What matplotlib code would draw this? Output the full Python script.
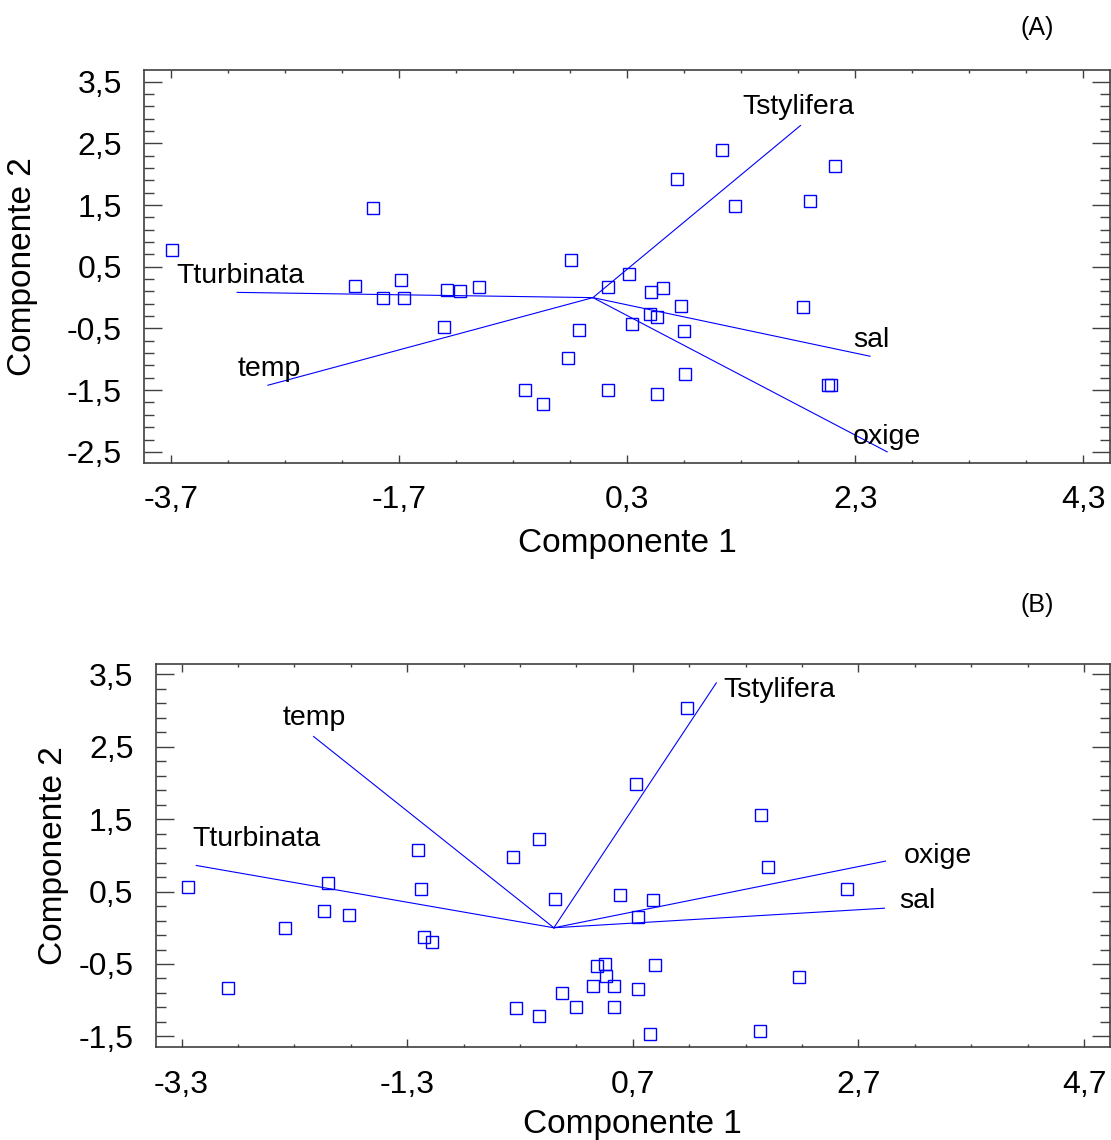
#PCA biplots (A) and (B) - Componente 1 vs Componente 2
import numpy as np
import matplotlib
matplotlib.use('Agg')
import matplotlib.pyplot as plt

plt.rcParams['font.family'] = ['Liberation Sans', 'DejaVu Sans']

# Panel A scores
a_x = [-3.69, -1.93, -2.09, -1.68, -1.84, -1.66, -1.28, -1.17, -1.00, -1.31,
       -0.19, 0.13, 0.32, -0.12, -0.22, -0.60, -0.44, 0.13, 0.34,
       1.13, 0.735, 1.25, 2.12, 1.90, 0.51, 0.61, 0.77, 0.50, 0.56,
       0.80, 1.84, 0.81, 0.56, 2.06, 2.09]
a_y = [0.78, 1.45, 0.19, 0.28, 0.00, 0.00, 0.13, 0.11, 0.17, -0.47,
       0.61, 0.18, 0.39, -0.52, -0.98, -1.50, -1.72, -1.50, -0.42,
       2.39, 1.92, 1.49, 2.14, 1.56, 0.09, 0.15, -0.14, -0.27, -0.31,
       -0.54, -0.16, -1.23, -1.56, -1.41, -1.41]

# Panel A loadings (vector ends)
a_vars = ['Tturbinata', 'temp', 'Tstylifera', 'sal', 'oxige']
a_vx = [-3.12, -2.85, 1.82, 2.43, 2.58]
a_vy = [0.085, -1.42, 2.79, -0.95, -2.50]

# Panel B scores
b_x = [-3.24, -2.89, -2.38, -2.04, -2.00, -1.82, -1.20, -1.18, -1.15, -1.08,
       -0.36, -0.13, 0.01, -0.34, -0.13, 0.07, 0.20, 0.35, 0.38, 0.45,
       0.46, 0.53, 0.53, 0.59, 0.73, 0.75, 0.75,
       1.18, 1.84, 1.90, 2.60, 0.88, 0.90, 2.17, 0.85, 1.83]
b_y = [0.56, -0.83, -0.01, 0.23, 0.62, 0.17, 1.08, 0.54, -0.13, -0.20,
       0.97, 1.23, 0.40, -1.11, -1.22, -0.90, -1.09, -0.81, -0.53, -0.50,
       -0.66, -0.81, -1.09, 0.45, 1.99, 0.15, -0.85,
       3.03, 1.55, 0.84, 0.54, 0.38, -0.51, -0.68, -1.47, -1.42]

# Panel B loadings
b_vars = ['temp', 'Tturbinata', 'Tstylifera', 'oxige', 'sal']
b_vx = [-2.13, -3.17, 1.44, 2.94, 2.93]
b_vy = [2.64, 0.86, 3.38, 0.92, 0.27]

a_xticks = [-3.7, -1.7, 0.3, 2.3, 4.3]
a_yticks = [-2.5, -1.5, -0.5, 0.5, 1.5, 2.5, 3.5]
b_xticks = [-3.3, -1.3, 0.7, 2.7, 4.7]
b_yticks = [-1.5, -0.5, 0.5, 1.5, 2.5, 3.5]

# label offsets in points (dx, dy) from the end of each vector
a_offsets = {'Tturbinata': (-44, 12), 'temp': (-22, 12), 'Tstylifera': (-42, 13),
             'sal': (-12, 12), 'oxige': (-25, 11)}
b_offsets = {'temp': (-22, 13), 'Tturbinata': (-3, 19), 'Tstylifera': (5, -5),
             'oxige': (13, 4), 'sal': (11, 5)}

blue = '#0000ff'
frame = '#404040'

def fmt(v):
    return f'{v:.1f}'.replace('.', ',')

def biplot(ax, px, py, names, vx, vy, offsets, xticks, yticks, xlim, ylim):
    for name, ex, ey in zip(names, vx, vy):
        ax.plot([0, ex], [0, ey], color=blue, lw=0.8)
        dx, dy = offsets[name]
        ax.annotate(name, xy=(ex, ey), xytext=(dx, dy), textcoords='offset points',
                    ha='left', va='center', fontsize=20.5, color='black')
    ax.plot(px, py, 's', mfc='none', mec=blue, ms=8, mew=1.0, ls='none')
    ax.set_xticks(xticks)
    ax.set_yticks(yticks)
    ax.set_xticklabels([fmt(v) for v in xticks])
    ax.set_yticklabels([fmt(v) for v in yticks])
    ax.set_xticks(np.arange(xticks[0] - 0.5, xticks[-1] + 0.51, 0.5), minor=True)
    ax.set_yticks(np.arange(yticks[0] - 0.2, yticks[-1] + 0.21, 0.2), minor=True)
    # limits after the ticks, otherwise set_xticks widens them
    ax.set_xlim(xlim)
    ax.set_ylim(ylim)
    ax.tick_params(axis='both', which='both', direction='in', color=frame,
                   top=True, right=True, labelsize=23)
    ax.tick_params(axis='x', which='major', length=5.5, width=1, pad=16)
    ax.tick_params(axis='x', which='minor', length=2.5, width=1)
    ax.tick_params(axis='y', which='major', length=13, width=1, pad=16)
    ax.tick_params(axis='y', which='minor', length=7, width=1)
    for s in ax.spines.values():
        s.set_color(frame)
        s.set_linewidth(1.2)
    ax.set_xlabel('Componente 1', fontsize=24)
    ax.set_ylabel('Componente 2', fontsize=24)

fig = plt.figure(figsize=(11.11, 11.40), dpi=100)

ax1 = fig.add_axes([0.1296, 0.5939, 0.8695, 0.3447])
biplot(ax1, a_x, a_y, a_vars, a_vx, a_vy, a_offsets, a_xticks, a_yticks,
       (-3.937, 4.534), (-2.68, 3.69))
ax1.xaxis.set_label_coords(0.5, -0.165)
ax1.yaxis.set_label_coords(-0.11, 0.5)

ax2 = fig.add_axes([0.1401, 0.0813, 0.859, 0.3362])
biplot(ax2, b_x, b_y, b_vars, b_vx, b_vy, b_offsets, b_xticks, b_yticks,
       (-3.53, 4.93), (-1.65, 3.64))
ax2.xaxis.set_label_coords(0.5, -0.16)
ax2.yaxis.set_label_coords(-0.091, 0.5)

fig.text(1037 / 1111, 1 - 28 / 1140, '(A)', ha='center', va='center', fontsize=18)
fig.text(1037 / 1111, 1 - 605 / 1140, '(B)', ha='center', va='center', fontsize=18)

fig.savefig('out.png', dpi=100)
